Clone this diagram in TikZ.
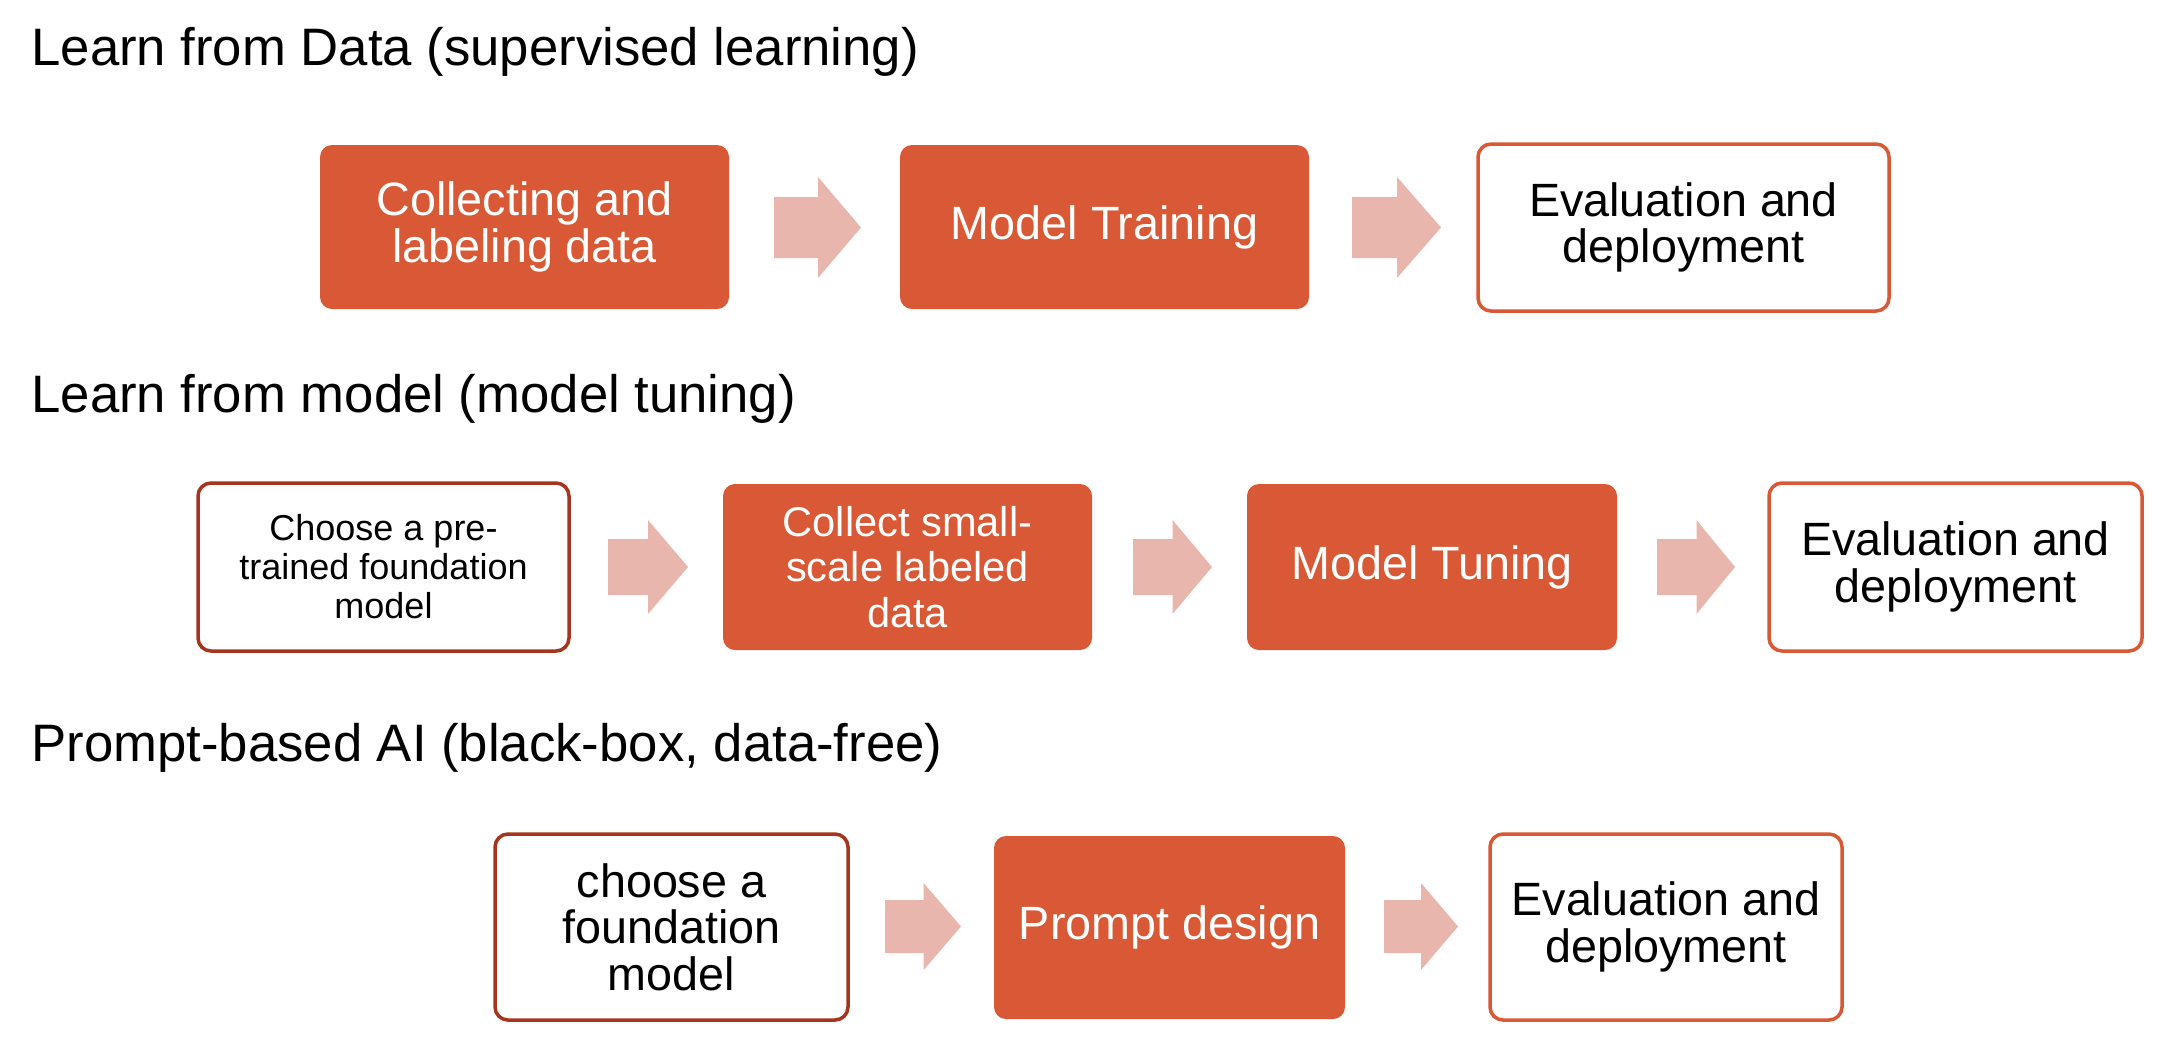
\documentclass[tikz,border=0pt]{standalone}
\usepackage{fontspec}
\setmainfont{Liberation Sans}
\definecolor{boxfill}{RGB}{217,88,53}
\definecolor{darkline}{RGB}{166,53,31}
\definecolor{arrowfill}{RGB}{232,182,172}
\tikzset{
  filledbox/.style={fill=boxfill, text=white, rounded corners=6pt, inner sep=0pt, align=center},
  outbox/.style={draw=boxfill, line width=1.75pt, fill=white, text=black, rounded corners=6.5pt, inner sep=0pt, align=center},
  darkbox/.style={outbox, draw=darkline},
  titletext/.style={anchor=base west, inner sep=0pt, font=\fontsize{26.35}{30}\selectfont},
  maintext/.style={font=\fontsize{23.35}{23.25}\selectfont},
  smalltext/.style={font=\fontsize{18}{19.5}\selectfont},
  midtext/.style={font=\fontsize{20.8}{22.7}\selectfont},
}
% block arrow: x0, x1, head start x, centre y, half height, half shaft height
\newcommand\blockarrow[6]{%
  \fill[arrowfill] (#1,#4-#6) -- (#3,#4-#6) -- (#3,#4-#5) -- (#2,#4) -- (#3,#4+#5) -- (#3,#4+#6) -- (#1,#4+#6) -- cycle;}
\begin{document}
\begin{tikzpicture}[x=0.5pt, y=-0.5pt]
\useasboundingbox (0,0) rectangle (2168,1046);

% Titles
\node[titletext] (t1) at (31,65) {Learn from Data (supervised learning)};
\node[titletext] (t2) at (31,412) {Learn from model (model tuning)};
\node[titletext] (t3) at (31,761) {Prompt-based AI (black-box, data-free)};

% Row 1
\node[filledbox, maintext, minimum width=204.5pt, minimum height=82pt] (r1a) at (524.5,227) {Collecting and\\labeling data};
\node[filledbox, maintext, minimum width=204.5pt, minimum height=82pt] (r1b) at (1104.5,227) {Model Training};
\node[outbox, maintext, minimum width=205.5pt, minimum height=83.5pt] (r1c) at (1683.5,227.5) {Evaluation and\\deployment};
\blockarrow{774}{861}{818}{227.5}{50.5}{30.5}
\blockarrow{1352}{1441}{1397}{227.5}{50.5}{30.5}

% Row 2
\node[darkbox, smalltext, minimum width=185.5pt, minimum height=84pt] (r2a) at (383.5,567) {Choose a pre-\\trained foundation\\model};
\node[filledbox, midtext, minimum width=184.5pt, minimum height=83pt] (r2b) at (907.5,567) {Collect small-\\scale labeled\\data};
\node[filledbox, maintext, minimum width=185pt, minimum height=83pt] (r2c) at (1432,567) {Model Tuning};
\node[outbox, maintext, minimum width=186.5pt, minimum height=84pt] (r2d) at (1955.5,567) {Evaluation and\\deployment};
\blockarrow{608}{688}{648}{567}{47}{28}
\blockarrow{1133}{1212}{1172.5}{567}{47}{28}
\blockarrow{1657}{1735}{1696.5}{567}{47}{28}

% Row 3
\node[darkbox, maintext, minimum width=176.5pt, minimum height=93pt] (r3a) at (671.5,927) {choose a\\foundation\\model};
\node[filledbox, maintext, minimum width=175.5pt, minimum height=91.5pt] (r3b) at (1169.5,927.5) {Prompt design};
\node[outbox, maintext, minimum width=176pt, minimum height=93pt] (r3c) at (1666,927) {Evaluation and\\deployment};
\blockarrow{885}{961}{923.6}{926.5}{43.5}{26.5}
\blockarrow{1384}{1458}{1421}{926.5}{43.5}{26.5}
\end{tikzpicture}
\end{document}
